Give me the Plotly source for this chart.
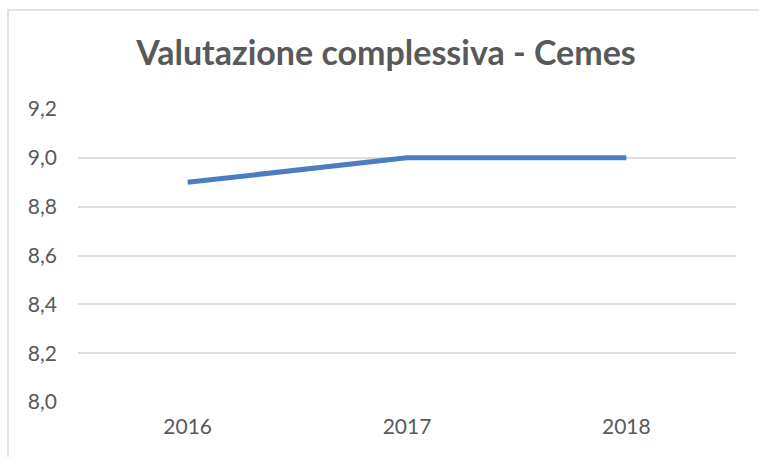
import plotly.graph_objects as go

years = ["2016", "2017", "2018"]
values = [8.9, 9.0, 9.0]
y_ticks = [8.0, 8.2, 8.4, 8.6, 8.8, 9.0, 9.2]
y_tick_labels = ["8,0", "8,2", "8,4", "8,6", "8,8", "9,0", "9,2"]

W, H = 759, 457
L, R, T, B = 78, 23, 109, 55
pw, ph = W - L - R, H - T - B

def px(x):
    return (x - L) / pw

def py(y):
    return (H - B - y) / ph

fig = go.Figure()
fig.add_trace(go.Scatter(
    x=years, y=values, mode="lines",
    line=dict(color="#4a7ebf", width=5),
    showlegend=False, hoverinfo="skip",
))

fig.update_layout(
    width=W, height=H,
    margin=dict(l=L, r=R, t=T, b=B, autoexpand=False),
    paper_bgcolor="white", plot_bgcolor="white",
    font=dict(family="Lato, Open Sans, sans-serif", color="#595959"),
    title=dict(
        text="<b>Valutazione complessiva - Cemes</b>",
        x=px(386), xref="paper", xanchor="center",
        y=1 - 65 / H, yref="container", yanchor="bottom",
        font=dict(size=34, color="#595959", family="Lato, sans-serif"),
        pad=dict(b=0, t=0, l=0, r=0),
    ),
    xaxis=dict(
        type="category", range=[-0.5, 2.5], automargin=False,
        showgrid=False, zeroline=False, showline=False,
        ticks="", tickfont=dict(size=21, color="#595959"),
        ticklabelstandoff=10,
    ),
    yaxis=dict(
        range=[8.0, 9.2], tickvals=y_ticks, ticktext=y_tick_labels,
        automargin=False,
        showgrid=True, gridcolor="#dddddd", gridwidth=1.5,
        zeroline=False, showline=False, ticks="",
        tickfont=dict(size=21, color="#595959"),
        ticklabelstandoff=20,
    ),
    shapes=[dict(
        type="rect", xref="paper", yref="paper",
        x0=px(8), x1=px(762), y0=py(462), y1=py(10),
        line=dict(color="#d9d9d9", width=1.5), fillcolor="rgba(0,0,0,0)",
        layer="below",
    )],
)

fig.write_html("out.html", config={"displayModeBar": False},
               post_script="document.body.style.margin='0';")
